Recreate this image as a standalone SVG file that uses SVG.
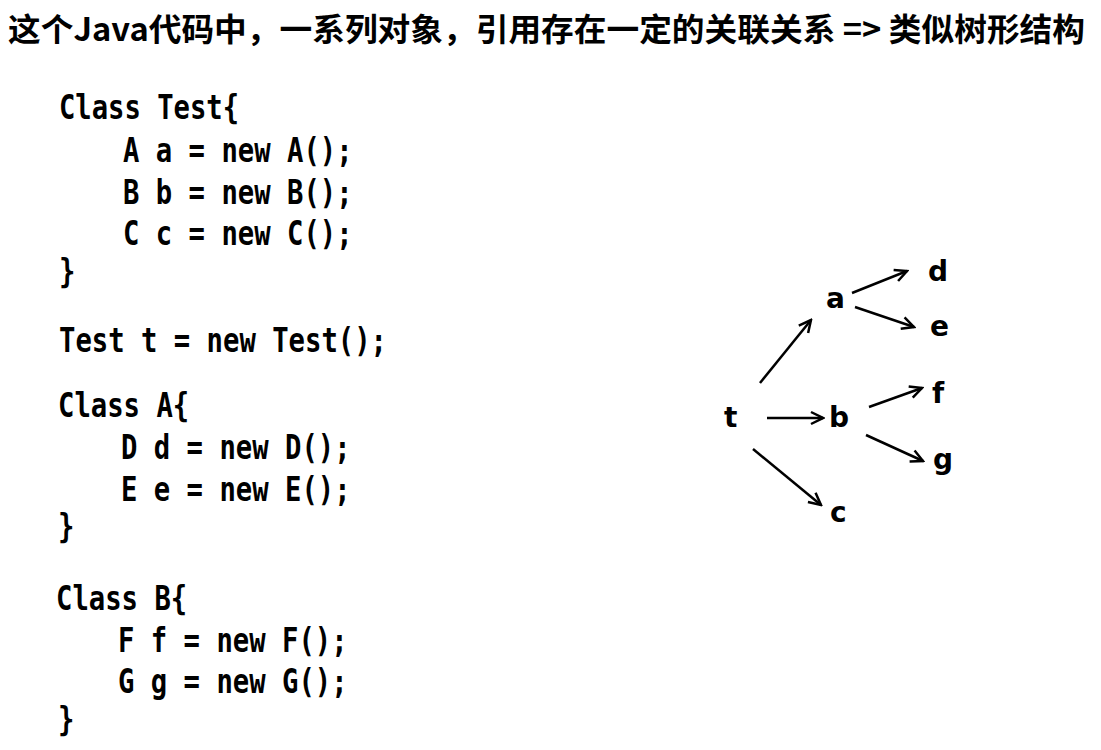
<svg xmlns="http://www.w3.org/2000/svg" width="1101" height="750" viewBox="0 0 1101 750">
<style>
.title{font-family:"Noto Sans CJK SC","Liberation Sans",sans-serif;font-weight:bold;font-size:32px;fill:#000}
.code{font-family:"DejaVu Sans Mono","Liberation Mono",monospace;font-weight:bold;font-size:33px;fill:#000}
.node{font-family:"DejaVu Sans","Liberation Sans",sans-serif;font-weight:bold;font-size:28px;fill:#000}
.edge{stroke:#000;stroke-width:2.5;fill:none;marker-end:url(#arr)}
</style>
<defs>
<marker id="arr" viewBox="-1 -1 16 16" refX="13" refY="7" markerWidth="16" markerHeight="16" markerUnits="userSpaceOnUse" orient="auto">
<path d="M1,1 L13,7 L1,13" fill="none" stroke="#000" stroke-width="2.5"/>
</marker>
</defs>
<rect width="1101" height="750" fill="#fff"/>
<text class="title" x="8" y="41" textLength="1077" lengthAdjust="spacingAndGlyphs">这个Java代码中，一系列对象，引用存在一定的关联关系 =&gt; 类似树形结构</text>
<g id="code">
<text class="code" x="59" y="119" textLength="180" lengthAdjust="spacingAndGlyphs">Class Test{</text>
<text class="code" x="123" y="161.5" textLength="229.6" lengthAdjust="spacingAndGlyphs">A a = new A();</text>
<text class="code" x="123" y="203.5" textLength="229.6" lengthAdjust="spacingAndGlyphs">B b = new B();</text>
<text class="code" x="123" y="244.5" textLength="229.6" lengthAdjust="spacingAndGlyphs">C c = new C();</text>
<text class="code" x="59" y="283" textLength="16.4" lengthAdjust="spacingAndGlyphs">}</text>
<text class="code" x="59" y="351.5" textLength="328" lengthAdjust="spacingAndGlyphs">Test t = new Test();</text>
<text class="code" x="58" y="416.5" textLength="131.2" lengthAdjust="spacingAndGlyphs">Class A{</text>
<text class="code" x="121" y="458.5" textLength="229.6" lengthAdjust="spacingAndGlyphs">D d = new D();</text>
<text class="code" x="121" y="500.5" textLength="229.6" lengthAdjust="spacingAndGlyphs">E e = new E();</text>
<text class="code" x="58" y="538" textLength="16.4" lengthAdjust="spacingAndGlyphs">}</text>
<text class="code" x="56" y="609.5" textLength="131.2" lengthAdjust="spacingAndGlyphs">Class B{</text>
<text class="code" x="118" y="651.5" textLength="229.6" lengthAdjust="spacingAndGlyphs">F f = new F();</text>
<text class="code" x="118" y="692.5" textLength="229.6" lengthAdjust="spacingAndGlyphs">G g = new G();</text>
<text class="code" x="58" y="731" textLength="16.4" lengthAdjust="spacingAndGlyphs">}</text>
</g>
<g id="connectors">
<line class="edge" x1="760" y1="383" x2="811" y2="320"/>
<line class="edge" x1="767" y1="418" x2="823" y2="418"/>
<line class="edge" x1="753" y1="449" x2="821" y2="505"/>
<line class="edge" x1="852" y1="293" x2="907" y2="271"/>
<line class="edge" x1="855" y1="307" x2="914" y2="327"/>
<line class="edge" x1="869" y1="407" x2="922" y2="388"/>
<line class="edge" x1="866" y1="435" x2="923" y2="461"/>
</g>
<g id="node-t"><text class="node" x="724" y="427">t</text></g>
<g id="node-a"><text class="node" x="826" y="308">a</text></g>
<g id="node-b"><text class="node" x="829" y="427">b</text></g>
<g id="node-c"><text class="node" x="830" y="522">c</text></g>
<g id="node-d"><text class="node" x="928" y="281">d</text></g>
<g id="node-e"><text class="node" x="930" y="336">e</text></g>
<g id="node-f"><text class="node" x="932" y="403">f</text></g>
<g id="node-g"><text class="node" x="933" y="469">g</text></g>
</svg>
